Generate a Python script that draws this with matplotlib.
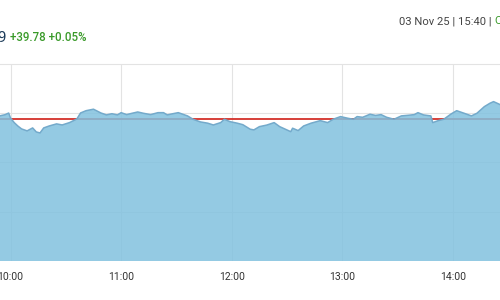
import pandas as pd
import matplotlib
matplotlib.use("Agg")
import matplotlib.pyplot as plt
import matplotlib.dates as mdates

plt.rcParams.update({
    "font.family": ["Roboto", "DejaVu Sans"],
    "font.size": 8})

# intraday index values, 03 Nov 2025
times = ["09:52", "09:54", "09:57", "09:59", "10:00", "10:02", "10:04", "10:06",
         "10:09", "10:12", "10:14", "10:16", "10:18", "10:21", "10:25", "10:28",
         "10:32", "10:36", "10:38", "10:41", "10:45", "10:49", "10:52", "10:55",
         "10:58", "11:00", "11:03", "11:06", "11:09", "11:12", "11:16", "11:20",
         "11:23", "11:25", "11:28", "11:31", "11:36", "11:39", "11:43", "11:47",
         "11:50", "11:54", "11:56", "11:59", "12:03", "12:06", "12:10", "12:12",
         "12:15", "12:19", "12:23", "12:26", "12:32", "12:33", "12:36", "12:39",
         "12:43", "12:48", "12:52", "12:55", "12:59", "13:03", "13:06", "13:08",
         "13:11", "13:15", "13:18", "13:21", "13:24", "13:28", "13:32", "13:36",
         "13:39", "13:41", "13:44", "13:48", "13:49", "13:52", "13:55", "13:59",
         "14:02", "14:06", "14:10", "14:13", "14:17", "14:20", "14:22", "14:26",
         "14:28"]
values = [83960, 83973, 83985, 84002, 83952, 83905, 83870, 83841,
          83821, 83851, 83810, 83800, 83851, 83871, 83892, 83881,
          83905, 83942, 84003, 84026, 84041, 84003, 83983, 83995,
          83983, 84006, 83986, 84000, 84013, 84000, 83986, 84006,
          84006, 83983, 83995, 84006, 83973, 83939, 83912, 83899,
          83881, 83905, 83939, 83915, 83899, 83884, 83838, 83831,
          83864, 83880, 83905, 83864, 83813, 83848, 83824, 83871,
          83899, 83925, 83905, 83939, 83966, 83949, 83939, 83966,
          83959, 83990, 83978, 83986, 83959, 83939, 83973, 83980,
          83986, 84006, 83983, 83973, 83905, 83925, 83939, 83993,
          84026, 84000, 83973, 84000, 84067, 84101, 84118, 84084,
          84090]
prev_close = 83938.71

last_price = "83,978.49"
change_text = "+39.78 +0.05%"
stamp_text = "03 Nov 25 | 15:40 | "
status_text = "Open"

day = "2025-11-03 "
t = pd.to_datetime([day + s for s in times])

fig = plt.figure(figsize=(5, 3), dpi=100)
ax = fig.add_axes([0, 0.13, 1, 0.6567])

ax.axhline(prev_close, color="#d3302a", lw=1.3, zorder=1)
ax.fill_between(t, values, 82500, color=(130/255, 193/255, 223/255), alpha=0.85,
                lw=0, zorder=2)
ax.plot(t, values, color="#74aacb", lw=1.1, zorder=3)

ax.set_ylim(82500, 84500)
ax.set_yticks([83000, 83500, 84000])
ax.set_xlim(pd.Timestamp(day + "09:54:18"), pd.Timestamp(day + "14:25:30"))
ax.xaxis.set_major_locator(mdates.HourLocator())
ax.xaxis.set_major_formatter(mdates.DateFormatter("%H:%M"))
ax.grid(True, color="#e3e3e3", lw=0.8, zorder=0)
ax.set_axisbelow(True)
ax.tick_params(axis="x", length=0, pad=8, labelsize=7.5, colors="#333333")
ax.tick_params(axis="y", length=0, labelleft=False)
for s in ["left", "right", "bottom"]:
    ax.spines[s].set_visible(False)
ax.spines["top"].set_color("#e3e3e3")

fig.text(6.5 / 500, 1 - 37 / 300, last_price, ha="right", va="center",
         fontsize=11, color="#1d3c5a")
fig.text(10.5 / 500, 1 - 37.5 / 300, change_text, ha="left", va="center",
         fontsize=8.3, fontweight="medium", color="#3a9a2a")
stamp = fig.text(399 / 500, 1 - 21 / 300, stamp_text, ha="left", va="center",
                 fontsize=8.1, color="#444444")
fig.text(0, 0, status_text, ha="left", va="center", fontsize=8.1,
         color="#3a9a2a", transform=None)
fig.texts[-1].remove()
fig.canvas.draw()
bb = stamp.get_window_extent()
fig.text(bb.x1 / 500, 1 - 21 / 300, status_text, ha="left", va="center",
         fontsize=8.1, color="#3a9a2a")

fig.savefig("out.png", dpi=100)
plt.close(fig)
